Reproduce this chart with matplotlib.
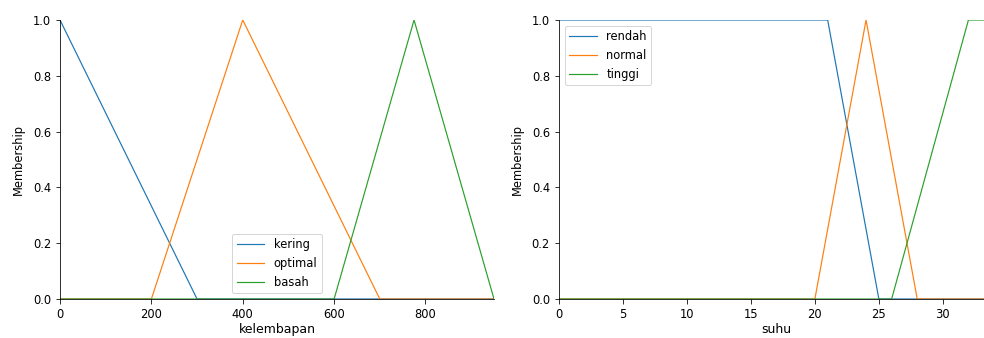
import matplotlib
matplotlib.use('Agg')
import matplotlib.pyplot as plt

# kelembapan (titik-titik fungsi keanggotaan)
kering_x = [0, 300, 950]
kering_y = [1, 0, 0]
optimal_x = [0, 200, 400, 700, 950]
optimal_y = [0, 0, 1, 0, 0]
basah_x = [0, 600, 775, 950]
basah_y = [0, 0, 1, 0]

# suhu
rendah_x = [0, 21, 25, 34]
rendah_y = [1, 1, 0, 0]
normal_x = [0, 20, 24, 28, 34]
normal_y = [0, 0, 1, 0, 0]
tinggi_x = [0, 26, 32, 34]
tinggi_y = [0, 0, 1, 1]

plt.rcParams['font.size'] = 11.5
plt.rcParams['xtick.major.size'] = 4.5
plt.rcParams['ytick.major.size'] = 4.5
plt.rcParams['xtick.major.pad'] = 4.5
plt.rcParams['ytick.major.pad'] = 4.5

fig = plt.figure(figsize=(984 / 72, 338 / 72), dpi=72)
ax1 = fig.add_axes([60 / 984, 1 - 299 / 338, 434 / 984, 279 / 338])
ax2 = fig.add_axes([559 / 984, 1 - 299 / 338, 435 / 984, 279 / 338])

ax1.plot(kering_x, kering_y, label='kering', linewidth=1.2)
ax1.plot(optimal_x, optimal_y, label='optimal', linewidth=1.2)
ax1.plot(basah_x, basah_y, label='basah', linewidth=1.2)
ax1.set_xlim(0, 950)
ax1.set_xlabel('kelembapan', labelpad=2, fontsize=12.5)
ax1.legend(loc='lower center', handlelength=2.4)

ax2.plot(rendah_x, rendah_y, label='rendah', linewidth=1.2)
ax2.plot(normal_x, normal_y, label='normal', linewidth=1.2)
ax2.plot(tinggi_x, tinggi_y, label='tinggi', linewidth=1.2)
ax2.set_xlim(0, 34)
ax2.set_xlabel('suhu', labelpad=2, fontsize=12.5)
ax2.legend(loc='upper left', handlelength=2.4)

for ax in (ax1, ax2):
    ax.set_ylim(0, 1.0)
    ax.set_ylabel('Membership', labelpad=8)
    ax.spines['top'].set_visible(False)
    ax.spines['right'].set_visible(False)
    ax.get_xaxis().tick_bottom()
    ax.get_yaxis().tick_left()

plt.savefig('out.png', dpi=72)
plt.close()
